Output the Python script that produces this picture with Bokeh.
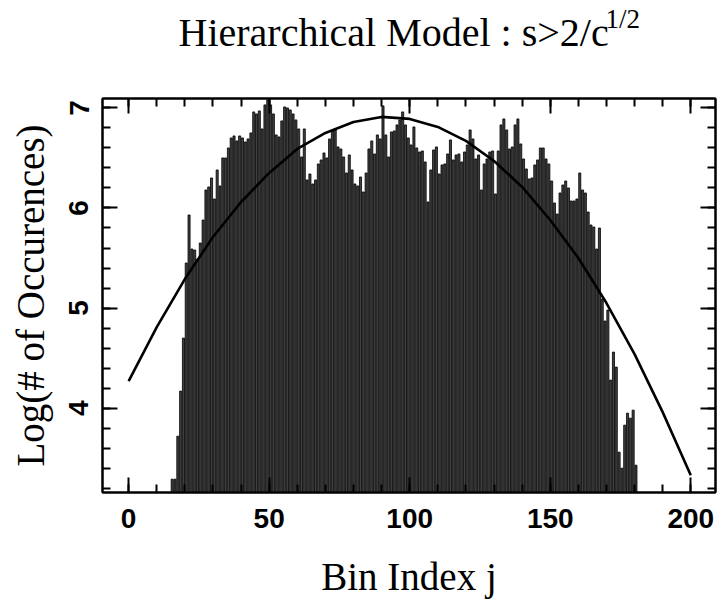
from bokeh.plotting import figure
from bokeh.models import Range1d, LinearAxis, SingleIntervalTicker, ColumnDataSource
from bokeh.layouts import column
from bokeh.core.properties import value
from bokeh.embed import file_html
from bokeh.resources import INLINE

# ---- data ----
bin_index = list(range(15, 181))
log_counts = [
    # j = 15 .. 43
    3.29, 3.29, 3.72, 4.17, 4.70, 5.45, 5.93, 5.59, 5.58, 5.49,
    5.65, 5.88, 6.18, 6.21, 6.30, 6.09, 6.38, 6.22, 6.50, 6.50,
    6.60, 6.70, 6.72, 6.67, 6.72, 6.70, 6.66, 6.69, 6.75,
    # j = 44 .. 75
    6.96, 6.94, 6.97, 6.79, 7.03, 7.08, 7.03, 6.94, 6.73, 6.71,
    6.87, 7.01, 7.00, 6.98, 6.94, 6.88, 6.79, 6.51, 6.79, 6.28,
    6.34, 6.24, 6.28, 6.44, 6.48, 6.55, 6.50, 6.69, 6.77, 6.78,
    6.61, 6.59,
    # j = 76 .. 107
    6.51, 6.35, 6.53, 6.38, 6.24, 6.22, 6.31, 6.16, 6.35, 6.59,
    6.67, 6.54, 6.73, 6.69, 7.02, 6.73, 6.51, 6.76, 6.77, 6.83,
    6.88, 6.96, 6.83, 6.70, 6.63, 6.81, 6.60, 6.56, 6.57, 6.46,
    6.06, 6.38,
    # j = 108 .. 139
    6.58, 6.61, 6.34, 6.43, 6.44, 6.54, 6.68, 6.48, 6.53, 6.54,
    6.46, 6.56, 6.63, 6.78, 6.69, 6.49, 6.53, 6.18, 6.44, 6.49,
    6.56, 6.57, 6.14, 6.57, 6.83, 6.89, 6.78, 6.59, 6.61, 6.83,
    6.89, 6.64,
    # j = 140 .. 171
    6.49, 6.39, 6.29, 6.30, 6.43, 6.48, 6.60, 6.60, 6.49, 6.44,
    6.27, 6.05, 5.94, 6.15, 6.23, 6.27, 6.20, 6.07, 6.07, 6.09,
    6.35, 6.18, 6.15, 5.96, 5.83, 5.81, 5.59, 5.80, 5.09, 4.87,
    4.98, 4.28,
    # j = 172 .. 180
    4.56, 4.41, 3.56, 3.40, 3.83, 3.95, 3.90, 3.98, 3.43,
]

fit_x = [0, 10, 20, 30, 40, 50, 60, 70, 80, 90, 100,
         110, 120, 130, 140, 150, 160, 170, 180, 190, 200]
fit_y = [4.27, 4.81, 5.29, 5.71, 6.06, 6.35, 6.59, 6.75, 6.86, 6.91, 6.89,
         6.81, 6.67, 6.47, 6.21, 5.88, 5.50, 5.05, 4.54, 3.96, 3.33]

x_ticks_major = 50
y_ticks_major = 1

title_main = "Hierarchical Model : s>2/c"
title_sup = "1/2"
x_label = "Bin Index j"
y_label = "Log(# of Occurences)"

serif = "Liberation Serif"
tick_font = "Liberation Sans"

W, H = 719, 601
TITLE_H = 94
FRAME_L, FRAME_R = 102, 715   # pixel edges of the plot frame (column aligns both frames)

# ---- title strip (own small figure so its text is never clipped) ----
tf = figure(width=W, height=TITLE_H, output_backend="svg", toolbar_location=None,
            x_range=Range1d(FRAME_L, FRAME_R), y_range=Range1d(TITLE_H, 0),
            x_axis_type=None, y_axis_type=None, min_border=0,
            min_border_left=FRAME_L, min_border_right=W - FRAME_R)
tf.grid.visible = False
tf.outline_line_color = None
tf.text(x=[178], y=[32], text=[title_main], text_font=value(serif),
        text_font_size="40px", text_color="black", text_baseline="alphabetic",
        text_align="left")
tf.text(x=[605], y=[18], text=[title_sup], text_font=value(serif),
        text_font_size="27px", text_color="black", text_baseline="alphabetic",
        text_align="left")

# ---- main plot ----
p = figure(width=W, height=H - TITLE_H, output_backend="svg", toolbar_location=None,
           x_range=Range1d(-9.3, 208.8), y_range=Range1d(3.157, 7.094),
           min_border_left=FRAME_L, min_border_right=W - FRAME_R,
           min_border_top=4, min_border_bottom=109,
           background_fill_color="white", border_fill_color="white")
p.grid.visible = False
p.outline_line_color = "black"
p.outline_line_width = 2

src = ColumnDataSource(dict(x=[j + 0.5 for j in bin_index], top=log_counts))
p.vbar(x="x", top="top", bottom=0, width=0.74, source=src,
       fill_color="#404040", line_color="black", line_width=0.8)

p.line(fit_x, fit_y, line_color="black", line_width=2.6)


def style_axis(ax, interval, show_labels):
    ax.ticker = SingleIntervalTicker(interval=interval, num_minor_ticks=5)
    ax.axis_line_color = "black"
    ax.axis_line_width = 2
    ax.major_tick_in = 15
    ax.major_tick_out = 0
    ax.minor_tick_in = 8
    ax.minor_tick_out = 0
    ax.major_tick_line_width = 2
    ax.minor_tick_line_width = 2
    ax.major_tick_line_color = "black"
    ax.minor_tick_line_color = "black"
    if show_labels:
        ax.major_label_text_font = tick_font
        ax.major_label_text_font_style = "bold"
        ax.major_label_text_font_size = "28px"
        ax.major_label_text_color = "black"
    else:
        # labels are not painted at all on the mirror axes
        ax.major_label_text_color = None
        ax.major_label_text_font_size = "1px"
        ax.major_label_standoff = 0


xa = p.xaxis[0]
ya = p.yaxis[0]
style_axis(xa, x_ticks_major, True)
style_axis(ya, y_ticks_major, True)
xa.major_label_standoff = 16
ya.major_label_standoff = 14
ya.major_label_orientation = "vertical"

xa.axis_label = x_label
ya.axis_label = y_label
for ax in (xa, ya):
    ax.axis_label_text_font = serif
    ax.axis_label_text_font_style = "normal"
    ax.axis_label_text_color = "black"
    ax.axis_label_text_font_size = "39px"
xa.axis_label_standoff = 24
ya.axis_label_standoff = 15

top_ax = LinearAxis()
right_ax = LinearAxis()
style_axis(top_ax, x_ticks_major, False)
style_axis(right_ax, y_ticks_major, False)
p.add_layout(top_ax, "above")
p.add_layout(right_ax, "right")

layout = column(tf, p, spacing=0)
open("out.html", "w").write(file_html(layout, INLINE))
